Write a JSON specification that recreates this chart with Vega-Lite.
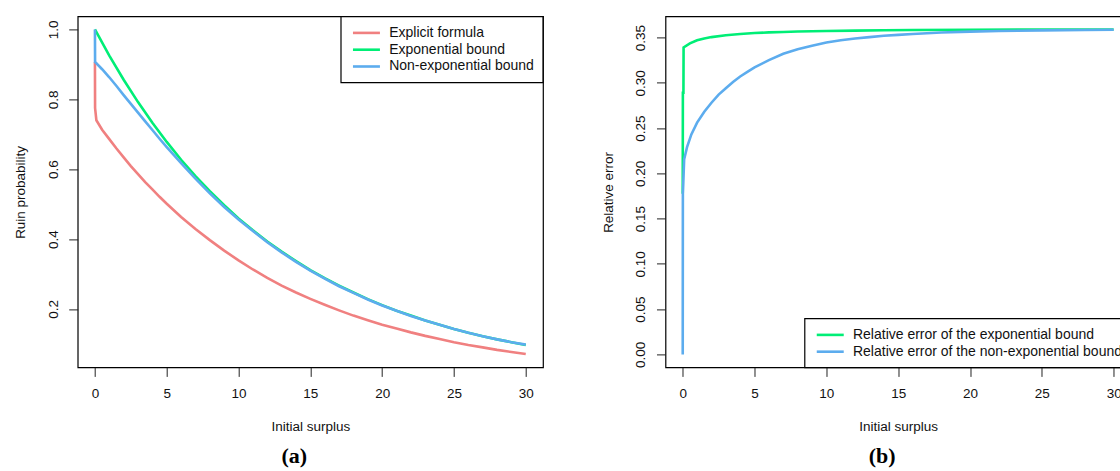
{
  "$schema": "https://vega.github.io/schema/vega-lite/v6.json",
  "background": "white",
  "padding": {"left": 12.7, "top": 14.4, "right": 0, "bottom": 5},
  "bounds": "flush",
  "spacing": 121.8,
  "config": {
    "view": {"stroke": "black", "strokeWidth": 1.2},
    "font": "Liberation Sans",
    "line": {"strokeWidth": 2.6},
    "axis": {
      "domain": false, "grid": false, "tickColor": "#222", "tickSize": 9, "tickWidth": 1,
      "labelFont": "Liberation Sans", "labelFontSize": 13.5, "labelColor": "#111",
      "titleFont": "Liberation Sans", "titleFontSize": 13.5, "titleFontWeight": "normal", "titleColor": "#111",
      "labelOverlap": false, "labelFlush": false
    },
    "axisX": {"labelBaseline": "middle", "labelPadding": 17.3, "titleX": 232.65, "titleY": 59, "titleBaseline": "middle", "titleAlign": "center"},
    "axisY": {"labelAngle": -90, "labelAlign": "center", "labelBaseline": "middle", "labelPadding": 15.5, "titleX": -57, "titleY": 175.5, "titleBaseline": "middle", "titleAngle": -90, "titleAlign": "center"},
    "legend": {
      "offset": 0, "strokeColor": "black", "strokeWidth": 1.2, "fillColor": "white", "padding": 8,
      "symbolType": "M-2,0H2", "symbolSize": 182, "symbolStrokeWidth": 2.6, "symbolOffset": 9.25,
      "labelOffset": 14.25, "labelFontSize": 14, "labelFont": "Liberation Sans", "labelColor": "#111",
      "rowPadding": 0.8, "cornerRadius": 0, "labelLimit": 400
    },
    "title": {"font": "Liberation Serif", "fontSize": 22, "fontWeight": "bold", "color": "black"}
  },
  "resolve": {"scale": {"color": "independent"}, "legend": {"color": "independent"}},
  "datasets": {
    "ruin": [
      {"u": 0, "p": 0.907, "s": "Explicit formula"},
      {"u": 0.01, "p": 0.775, "s": "Explicit formula"},
      {"u": 0.1, "p": 0.740, "s": "Explicit formula"},
      {"u": 0.5, "p": 0.713, "s": "Explicit formula"},
      {"u": 1, "p": 0.686, "s": "Explicit formula"},
      {"u": 1.5, "p": 0.659, "s": "Explicit formula"},
      {"u": 2, "p": 0.634, "s": "Explicit formula"},
      {"u": 2.5, "p": 0.609, "s": "Explicit formula"},
      {"u": 3, "p": 0.586, "s": "Explicit formula"},
      {"u": 3.5, "p": 0.563, "s": "Explicit formula"},
      {"u": 4, "p": 0.542, "s": "Explicit formula"},
      {"u": 4.5, "p": 0.521, "s": "Explicit formula"},
      {"u": 5, "p": 0.501, "s": "Explicit formula"},
      {"u": 6, "p": 0.463, "s": "Explicit formula"},
      {"u": 7, "p": 0.429, "s": "Explicit formula"},
      {"u": 8, "p": 0.397, "s": "Explicit formula"},
      {"u": 9, "p": 0.367, "s": "Explicit formula"},
      {"u": 10, "p": 0.339, "s": "Explicit formula"},
      {"u": 11, "p": 0.313, "s": "Explicit formula"},
      {"u": 12, "p": 0.289, "s": "Explicit formula"},
      {"u": 13, "p": 0.267, "s": "Explicit formula"},
      {"u": 14, "p": 0.247, "s": "Explicit formula"},
      {"u": 15, "p": 0.229, "s": "Explicit formula"},
      {"u": 16, "p": 0.212, "s": "Explicit formula"},
      {"u": 17, "p": 0.196, "s": "Explicit formula"},
      {"u": 18, "p": 0.181, "s": "Explicit formula"},
      {"u": 19, "p": 0.168, "s": "Explicit formula"},
      {"u": 20, "p": 0.155, "s": "Explicit formula"},
      {"u": 21, "p": 0.144, "s": "Explicit formula"},
      {"u": 22, "p": 0.133, "s": "Explicit formula"},
      {"u": 23, "p": 0.123, "s": "Explicit formula"},
      {"u": 24, "p": 0.114, "s": "Explicit formula"},
      {"u": 25, "p": 0.105, "s": "Explicit formula"},
      {"u": 26, "p": 0.097, "s": "Explicit formula"},
      {"u": 27, "p": 0.090, "s": "Explicit formula"},
      {"u": 28, "p": 0.083, "s": "Explicit formula"},
      {"u": 29, "p": 0.077, "s": "Explicit formula"},
      {"u": 30, "p": 0.071, "s": "Explicit formula"},

      {"u": 0, "p": 1.0, "s": "Exponential bound"},
      {"u": 1, "p": 0.925, "s": "Exponential bound"},
      {"u": 2, "p": 0.856, "s": "Exponential bound"},
      {"u": 3, "p": 0.792, "s": "Exponential bound"},
      {"u": 4, "p": 0.733, "s": "Exponential bound"},
      {"u": 5, "p": 0.678, "s": "Exponential bound"},
      {"u": 6, "p": 0.627, "s": "Exponential bound"},
      {"u": 7, "p": 0.580, "s": "Exponential bound"},
      {"u": 8, "p": 0.537, "s": "Exponential bound"},
      {"u": 9, "p": 0.497, "s": "Exponential bound"},
      {"u": 10, "p": 0.459, "s": "Exponential bound"},
      {"u": 11, "p": 0.425, "s": "Exponential bound"},
      {"u": 12, "p": 0.393, "s": "Exponential bound"},
      {"u": 13, "p": 0.364, "s": "Exponential bound"},
      {"u": 14, "p": 0.337, "s": "Exponential bound"},
      {"u": 15, "p": 0.311, "s": "Exponential bound"},
      {"u": 16, "p": 0.288, "s": "Exponential bound"},
      {"u": 17, "p": 0.267, "s": "Exponential bound"},
      {"u": 18, "p": 0.247, "s": "Exponential bound"},
      {"u": 19, "p": 0.228, "s": "Exponential bound"},
      {"u": 20, "p": 0.211, "s": "Exponential bound"},
      {"u": 21, "p": 0.195, "s": "Exponential bound"},
      {"u": 22, "p": 0.181, "s": "Exponential bound"},
      {"u": 23, "p": 0.167, "s": "Exponential bound"},
      {"u": 24, "p": 0.155, "s": "Exponential bound"},
      {"u": 25, "p": 0.143, "s": "Exponential bound"},
      {"u": 26, "p": 0.132, "s": "Exponential bound"},
      {"u": 27, "p": 0.122, "s": "Exponential bound"},
      {"u": 28, "p": 0.113, "s": "Exponential bound"},
      {"u": 29, "p": 0.105, "s": "Exponential bound"},
      {"u": 30, "p": 0.097, "s": "Exponential bound"},

      {"u": 0, "p": 1.0, "s": "Non-exponential bound"},
      {"u": 0.01, "p": 0.907, "s": "Non-exponential bound"},
      {"u": 0.5, "p": 0.886, "s": "Non-exponential bound"},
      {"u": 1, "p": 0.863, "s": "Non-exponential bound"},
      {"u": 1.5, "p": 0.838, "s": "Non-exponential bound"},
      {"u": 2, "p": 0.812, "s": "Non-exponential bound"},
      {"u": 2.5, "p": 0.787, "s": "Non-exponential bound"},
      {"u": 3, "p": 0.762, "s": "Non-exponential bound"},
      {"u": 3.5, "p": 0.737, "s": "Non-exponential bound"},
      {"u": 4, "p": 0.712, "s": "Non-exponential bound"},
      {"u": 4.5, "p": 0.687, "s": "Non-exponential bound"},
      {"u": 5, "p": 0.663, "s": "Non-exponential bound"},
      {"u": 6, "p": 0.617, "s": "Non-exponential bound"},
      {"u": 7, "p": 0.573, "s": "Non-exponential bound"},
      {"u": 8, "p": 0.531, "s": "Non-exponential bound"},
      {"u": 9, "p": 0.492, "s": "Non-exponential bound"},
      {"u": 10, "p": 0.456, "s": "Non-exponential bound"},
      {"u": 11, "p": 0.423, "s": "Non-exponential bound"},
      {"u": 12, "p": 0.391, "s": "Non-exponential bound"},
      {"u": 13, "p": 0.362, "s": "Non-exponential bound"},
      {"u": 14, "p": 0.335, "s": "Non-exponential bound"},
      {"u": 15, "p": 0.310, "s": "Non-exponential bound"},
      {"u": 16, "p": 0.287, "s": "Non-exponential bound"},
      {"u": 17, "p": 0.265, "s": "Non-exponential bound"},
      {"u": 18, "p": 0.246, "s": "Non-exponential bound"},
      {"u": 19, "p": 0.227, "s": "Non-exponential bound"},
      {"u": 20, "p": 0.210, "s": "Non-exponential bound"},
      {"u": 21, "p": 0.195, "s": "Non-exponential bound"},
      {"u": 22, "p": 0.180, "s": "Non-exponential bound"},
      {"u": 23, "p": 0.167, "s": "Non-exponential bound"},
      {"u": 24, "p": 0.155, "s": "Non-exponential bound"},
      {"u": 25, "p": 0.143, "s": "Non-exponential bound"},
      {"u": 26, "p": 0.132, "s": "Non-exponential bound"},
      {"u": 27, "p": 0.122, "s": "Non-exponential bound"},
      {"u": 28, "p": 0.113, "s": "Non-exponential bound"},
      {"u": 29, "p": 0.105, "s": "Non-exponential bound"},
      {"u": 30, "p": 0.098, "s": "Non-exponential bound"}
    ],
    "relerr": [
      {"u": 0, "r": 0.1775, "s": "Relative error of the exponential bound"},
      {"u": 0.01, "r": 0.289, "s": "Relative error of the exponential bound"},
      {"u": 0.05, "r": 0.289, "s": "Relative error of the exponential bound"},
      {"u": 0.06, "r": 0.339, "s": "Relative error of the exponential bound"},
      {"u": 0.5, "r": 0.3435, "s": "Relative error of the exponential bound"},
      {"u": 1, "r": 0.347, "s": "Relative error of the exponential bound"},
      {"u": 1.5, "r": 0.349, "s": "Relative error of the exponential bound"},
      {"u": 2, "r": 0.3505, "s": "Relative error of the exponential bound"},
      {"u": 3, "r": 0.3525, "s": "Relative error of the exponential bound"},
      {"u": 4, "r": 0.354, "s": "Relative error of the exponential bound"},
      {"u": 5, "r": 0.355, "s": "Relative error of the exponential bound"},
      {"u": 6, "r": 0.3557, "s": "Relative error of the exponential bound"},
      {"u": 7, "r": 0.3562, "s": "Relative error of the exponential bound"},
      {"u": 8, "r": 0.3566, "s": "Relative error of the exponential bound"},
      {"u": 10, "r": 0.3572, "s": "Relative error of the exponential bound"},
      {"u": 12, "r": 0.3577, "s": "Relative error of the exponential bound"},
      {"u": 14, "r": 0.358, "s": "Relative error of the exponential bound"},
      {"u": 16, "r": 0.3583, "s": "Relative error of the exponential bound"},
      {"u": 20, "r": 0.3586, "s": "Relative error of the exponential bound"},
      {"u": 25, "r": 0.3588, "s": "Relative error of the exponential bound"},
      {"u": 30, "r": 0.3589, "s": "Relative error of the exponential bound"},

      {"u": 0, "r": 0.0, "s": "Relative error of the non-exponential bound"},
      {"u": 0.01, "r": 0.1775, "s": "Relative error of the non-exponential bound"},
      {"u": 0.1, "r": 0.2155, "s": "Relative error of the non-exponential bound"},
      {"u": 0.3, "r": 0.229, "s": "Relative error of the non-exponential bound"},
      {"u": 0.6, "r": 0.243, "s": "Relative error of the non-exponential bound"},
      {"u": 1, "r": 0.256, "s": "Relative error of the non-exponential bound"},
      {"u": 1.5, "r": 0.268, "s": "Relative error of the non-exponential bound"},
      {"u": 2, "r": 0.278, "s": "Relative error of the non-exponential bound"},
      {"u": 2.5, "r": 0.287, "s": "Relative error of the non-exponential bound"},
      {"u": 3, "r": 0.294, "s": "Relative error of the non-exponential bound"},
      {"u": 3.5, "r": 0.301, "s": "Relative error of the non-exponential bound"},
      {"u": 4, "r": 0.307, "s": "Relative error of the non-exponential bound"},
      {"u": 4.5, "r": 0.312, "s": "Relative error of the non-exponential bound"},
      {"u": 5, "r": 0.317, "s": "Relative error of the non-exponential bound"},
      {"u": 6, "r": 0.325, "s": "Relative error of the non-exponential bound"},
      {"u": 7, "r": 0.332, "s": "Relative error of the non-exponential bound"},
      {"u": 8, "r": 0.337, "s": "Relative error of the non-exponential bound"},
      {"u": 9, "r": 0.341, "s": "Relative error of the non-exponential bound"},
      {"u": 10, "r": 0.3445, "s": "Relative error of the non-exponential bound"},
      {"u": 11, "r": 0.347, "s": "Relative error of the non-exponential bound"},
      {"u": 12, "r": 0.349, "s": "Relative error of the non-exponential bound"},
      {"u": 13, "r": 0.3505, "s": "Relative error of the non-exponential bound"},
      {"u": 14, "r": 0.352, "s": "Relative error of the non-exponential bound"},
      {"u": 15, "r": 0.353, "s": "Relative error of the non-exponential bound"},
      {"u": 16, "r": 0.354, "s": "Relative error of the non-exponential bound"},
      {"u": 18, "r": 0.3555, "s": "Relative error of the non-exponential bound"},
      {"u": 20, "r": 0.3565, "s": "Relative error of the non-exponential bound"},
      {"u": 22, "r": 0.3572, "s": "Relative error of the non-exponential bound"},
      {"u": 25, "r": 0.3579, "s": "Relative error of the non-exponential bound"},
      {"u": 28, "r": 0.3584, "s": "Relative error of the non-exponential bound"},
      {"u": 30, "r": 0.3586, "s": "Relative error of the non-exponential bound"}
    ]
  },
  "hconcat": [
    {
      "width": 465.3,
      "height": 351,
      "title": {"text": "(a)", "orient": "bottom", "dx": -16, "offset": 13},
      "data": {"name": "ruin"},
      "encoding": {
        "x": {"field": "u", "type": "quantitative", "scale": {"domain": [-1.2, 31.2], "nice": false, "zero": false},
              "axis": {"values": [0, 5, 10, 15, 20, 25, 30], "title": "Initial surplus"}},
        "y": {"field": "p", "type": "quantitative", "scale": {"domain": [0.0328, 1.0372], "nice": false, "zero": false},
              "axis": {"values": [0.2, 0.4, 0.6, 0.8, 1.0], "format": ".1f", "title": "Ruin probability"}},
        "color": {"field": "s", "type": "nominal",
                  "scale": {"domain": ["Explicit formula", "Exponential bound", "Non-exponential bound"], "range": ["#F08080", "#00EE76", "#5CACEE"]},
                  "legend": {"orient": "top-right", "title": null}}
      },
      "layer": [
        {"transform": [{"filter": "datum.s === 'Explicit formula'"}], "mark": {"type": "line"}},
        {"transform": [{"filter": "datum.s === 'Exponential bound'"}], "mark": {"type": "line"}},
        {"transform": [{"filter": "datum.s === 'Non-exponential bound'"}], "mark": {"type": "line"}}
      ]
    },
    {
      "width": 465.4,
      "height": 351,
      "title": {"text": "(b)", "orient": "bottom", "dx": -16, "offset": 13},
      "data": {"name": "relerr"},
      "encoding": {
        "x": {"field": "u", "type": "quantitative", "scale": {"domain": [-1.2, 31.2], "nice": false, "zero": false},
              "axis": {"values": [0, 5, 10, 15, 20, 25, 30], "title": "Initial surplus"}},
        "y": {"field": "r", "type": "quantitative", "scale": {"domain": [-0.01436, 0.37336], "nice": false, "zero": false},
              "axis": {"values": [0, 0.05, 0.1, 0.15, 0.2, 0.25, 0.3, 0.35], "format": ".2f", "title": "Relative error"}},
        "color": {"field": "s", "type": "nominal",
                  "scale": {"domain": ["Relative error of the exponential bound", "Relative error of the non-exponential bound"], "range": ["#00EE76", "#5CACEE"]},
                  "legend": {"orient": "bottom-right", "title": null}}
      },
      "layer": [
        {"transform": [{"filter": "datum.s === 'Relative error of the exponential bound'"}], "mark": {"type": "line"}},
        {"transform": [{"filter": "datum.s === 'Relative error of the non-exponential bound'"}], "mark": {"type": "line"}}
      ]
    }
  ]
}
